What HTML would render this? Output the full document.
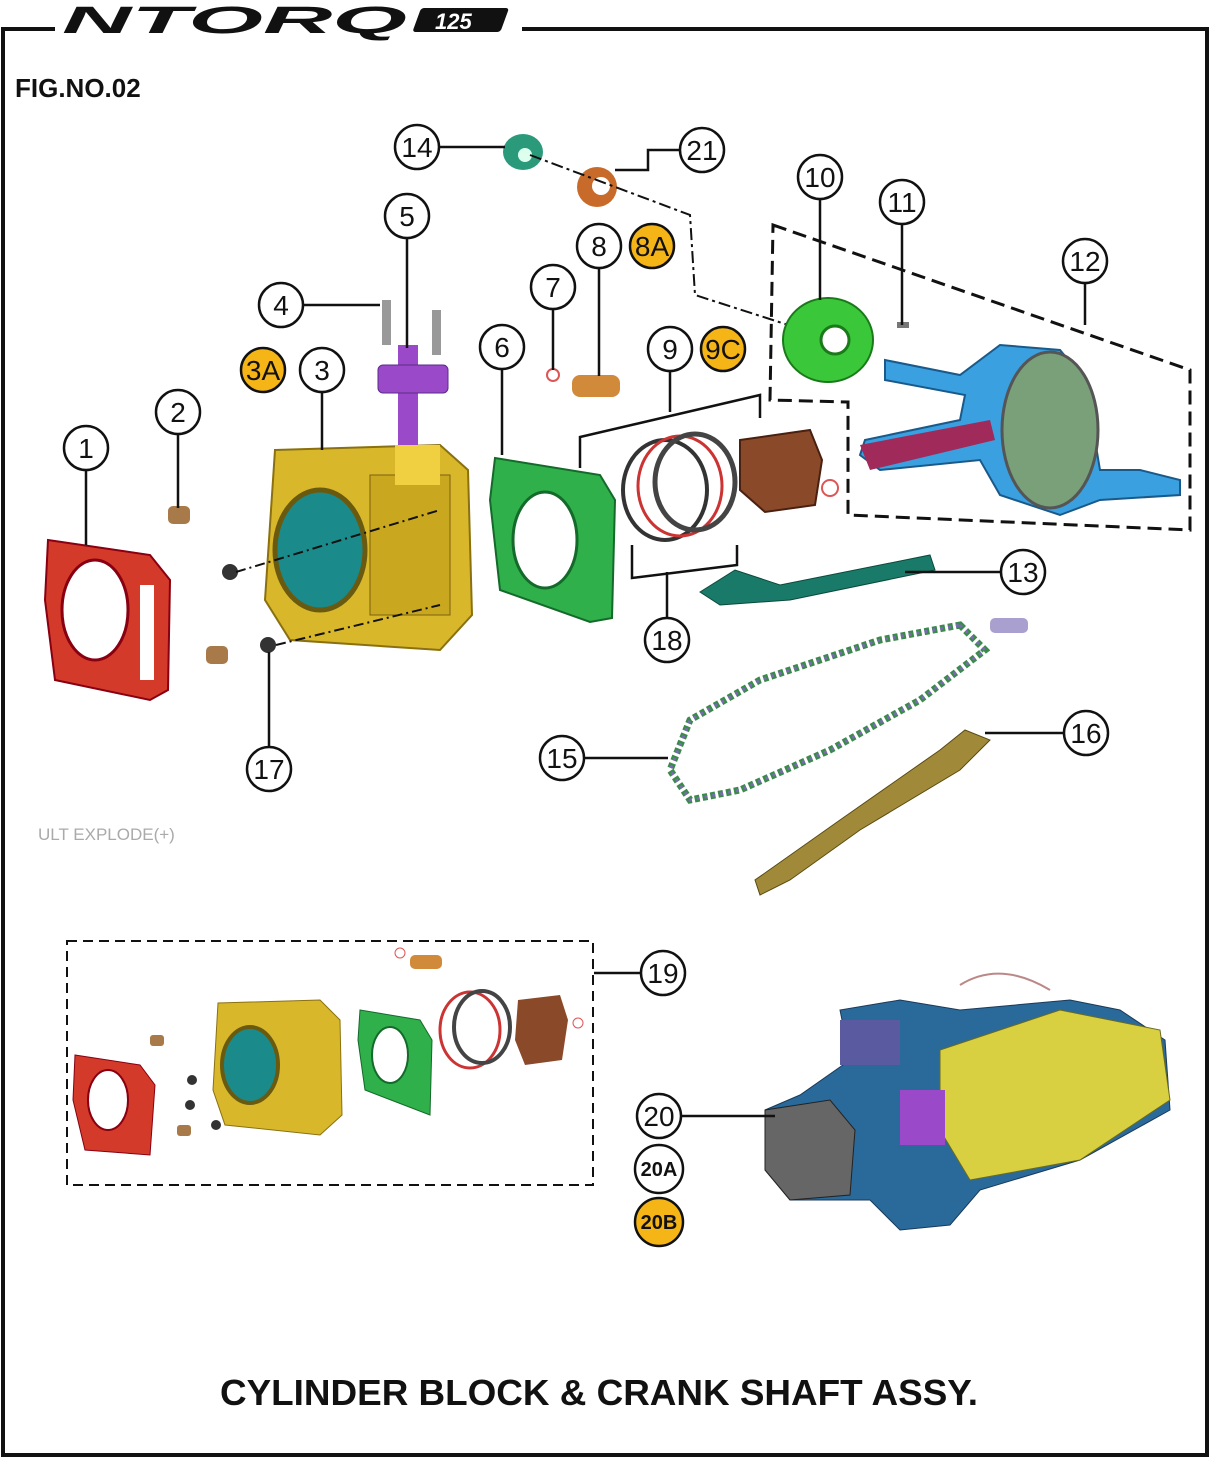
<!DOCTYPE html>
<html><head><meta charset="utf-8"><style>
html,body{margin:0;padding:0;background:#fff;}
svg{display:block}
text{font-family:"Liberation Sans",sans-serif;}
</style></head><body>
<svg width="1210" height="1458" viewBox="0 0 1210 1458" xmlns="http://www.w3.org/2000/svg">
<rect width="1210" height="1458" fill="#fff"/>
<path d="M55 29 H3 V1455 H1207 V29 H522" fill="none" stroke="#111" stroke-width="4"/>
<text x="62" y="33" font-size="38" font-weight="bold" font-style="italic" fill="#111" textLength="345" lengthAdjust="spacingAndGlyphs">NTORQ</text>
<rect x="420" y="8" width="88" height="24" rx="3" fill="#111" transform="skewX(-20) translate(4 0)"/>
<text x="435" y="29" font-size="22" font-weight="bold" font-style="italic" fill="#fff">125</text>
<text x="15" y="97" font-size="26" font-weight="bold" fill="#111">FIG.NO.02</text>
<text x="220" y="1405" font-size="36" font-weight="bold" fill="#111" textLength="758" lengthAdjust="spacingAndGlyphs">CYLINDER BLOCK &amp; CRANK SHAFT ASSY.</text>
<text x="38" y="840" font-size="17" fill="#aaa">ULT EXPLODE(+)</text>

<path d="M48 540 L150 555 L170 580 L168 690 L150 700 L55 680 L45 600 Z" fill="#d33a2a" stroke="#801" stroke-width="2"/>
<ellipse cx="95" cy="610" rx="33" ry="50" fill="#fff" stroke="#801" stroke-width="3"/>
<rect x="140" y="585" width="14" height="95" fill="#fff"/>
<rect x="168" y="506" width="22" height="18" rx="5" fill="#a87a4a"/>
<rect x="206" y="646" width="22" height="18" rx="5" fill="#a87a4a"/>
<circle cx="230" cy="572" r="8" fill="#333"/><circle cx="268" cy="645" r="8" fill="#333"/>
<path d="M275 450 L440 445 L468 470 L472 615 L440 650 L290 640 L265 600 Z" fill="#d8b82a" stroke="#8a7010" stroke-width="2"/>
<ellipse cx="320" cy="550" rx="45" ry="60" fill="#1a8a8a" stroke="#6a5a10" stroke-width="5"/>
<rect x="370" y="475" width="80" height="140" fill="#c9a820" stroke="#7a6010"/>
<rect x="395" y="445" width="45" height="40" fill="#f0d040"/>
<line x1="236" y1="572" x2="440" y2="510" stroke="#111" stroke-width="2" stroke-dasharray="10 4 2 4"/>
<line x1="276" y1="645" x2="440" y2="605" stroke="#111" stroke-width="2" stroke-dasharray="10 4 2 4"/>
<rect x="382" y="300" width="9" height="45" fill="#999"/><rect x="432" y="310" width="9" height="45" fill="#999"/>
<rect x="398" y="345" width="20" height="100" fill="#9a4ac8"/>
<rect x="378" y="365" width="70" height="28" rx="5" fill="#9a4ac8" stroke="#5a2a88"/>
<path d="M495 458 L600 475 L615 500 L612 618 L590 622 L500 590 L490 500 Z" fill="#2fb04a" stroke="#146a2a" stroke-width="2"/>
<ellipse cx="545" cy="540" rx="32" ry="48" fill="#fff" stroke="#146a2a" stroke-width="3"/>
<circle cx="553" cy="375" r="6" fill="none" stroke="#d55" stroke-width="2"/>
<rect x="572" y="375" width="48" height="22" rx="8" fill="#d08a3a"/>
<ellipse cx="665" cy="490" rx="42" ry="50" fill="none" stroke="#333" stroke-width="4"/>
<ellipse cx="680" cy="486" rx="42" ry="50" fill="none" stroke="#c33" stroke-width="3"/>
<ellipse cx="695" cy="482" rx="40" ry="48" fill="none" stroke="#444" stroke-width="5"/>
<path d="M740 440 L810 430 L822 460 L815 505 L765 512 L740 490 Z" fill="#8a4a2a" stroke="#4a2010" stroke-width="2"/>
<circle cx="830" cy="488" r="8" fill="none" stroke="#d55" stroke-width="2"/>
<ellipse cx="523" cy="152" rx="20" ry="18" fill="#2a9a7a"/><circle cx="525" cy="155" r="7" fill="#dfe"/>
<ellipse cx="597" cy="187" rx="20" ry="20" fill="#c86a2a"/><circle cx="601" cy="186" r="9" fill="#fff"/>
<path d="M530 155 L690 215 L695 295 L835 340" fill="none" stroke="#111" stroke-width="2" stroke-dasharray="12 4 3 4"/>
<ellipse cx="828" cy="340" rx="45" ry="42" fill="#3ac83a" stroke="#1a7a1a" stroke-width="2"/>
<circle cx="835" cy="340" r="14" fill="#fff" stroke="#1a7a1a" stroke-width="3"/>
<rect x="897" y="322" width="12" height="6" fill="#777"/>
<path d="M885 360 L960 375 L1000 345 L1060 350 L1085 380 L1100 470 L1140 470 L1180 480 L1180 495 L1100 500 L1060 515 L1000 495 L980 460 L880 470 L860 455 L865 440 L960 420 L965 395 L885 380 Z" fill="#3aa0e0" stroke="#1a5a8a" stroke-width="2"/>
<ellipse cx="1050" cy="430" rx="48" ry="78" fill="#7aa07a" stroke="#555" stroke-width="3"/>
<path d="M860 445 L990 420 L995 440 L870 470 Z" fill="#a02a5a"/>
<path d="M773 225 L1190 370 L1190 530 L848 515 L848 402 L770 400 Z" fill="none" stroke="#111" stroke-width="3" stroke-dasharray="14 7"/>
<path d="M700 592 L735 570 L780 585 L930 555 L935 570 L790 600 L720 605 Z" fill="#1a7a6a" stroke="#0a4a3a"/>
<rect x="990" y="618" width="38" height="15" rx="5" fill="#aaa0d0"/>
<path d="M960 625 L985 650 L920 700 L830 750 L740 790 L690 800 L670 770 L690 720 L760 680 L880 640 Z" fill="none" stroke="#3a8a4a" stroke-width="7" stroke-dasharray="5 3"/>
<path d="M960 625 L985 650 L920 700 L830 750 L740 790 L690 800 L670 770 L690 720 L760 680 L880 640 Z" fill="none" stroke="#7a6ab0" stroke-width="3" stroke-dasharray="3 5"/>
<path d="M965 730 L990 740 L960 770 L860 830 L790 880 L760 895 L755 880 L840 820 L940 750 Z" fill="#a08a3a" stroke="#5a4a10"/>

<rect x="67" y="941" width="526" height="244" fill="none" stroke="#111" stroke-width="2" stroke-dasharray="10 6"/>
<path d="M75 1055 L140 1065 L155 1085 L150 1155 L85 1150 L73 1100 Z" fill="#d33a2a" stroke="#801"/>
<ellipse cx="108" cy="1100" rx="20" ry="30" fill="#fff" stroke="#801" stroke-width="2"/>
<rect x="150" y="1035" width="14" height="11" rx="3" fill="#a87a4a"/><rect x="177" y="1125" width="14" height="11" rx="3" fill="#a87a4a"/>
<circle cx="192" cy="1080" r="5" fill="#333"/><circle cx="190" cy="1105" r="5" fill="#333"/><circle cx="216" cy="1125" r="5" fill="#333"/>
<path d="M218 1003 L320 1000 L340 1020 L342 1115 L320 1135 L225 1125 L213 1090 Z" fill="#d8b82a" stroke="#8a7010"/>
<ellipse cx="250" cy="1065" rx="28" ry="38" fill="#1a8a8a" stroke="#6a5a10" stroke-width="4"/>
<path d="M360 1010 L420 1020 L432 1040 L430 1115 L365 1090 L358 1040 Z" fill="#2fb04a" stroke="#146a2a"/>
<ellipse cx="390" cy="1055" rx="18" ry="28" fill="#fff" stroke="#146a2a" stroke-width="2"/>
<circle cx="400" cy="953" r="5" fill="none" stroke="#d55"/><rect x="410" y="955" width="32" height="14" rx="5" fill="#d08a3a"/>
<ellipse cx="470" cy="1030" rx="30" ry="38" fill="none" stroke="#c33" stroke-width="3"/>
<ellipse cx="482" cy="1027" rx="28" ry="36" fill="none" stroke="#444" stroke-width="4"/>
<path d="M518 1000 L560 995 L568 1020 L562 1060 L525 1065 L515 1040 Z" fill="#8a4a2a"/>
<circle cx="578" cy="1023" r="5" fill="none" stroke="#d55"/>

<path d="M765 1110 L800 1095 L850 1060 L840 1010 L900 1000 L960 1010 L1070 1000 L1120 1010 L1165 1040 L1170 1110 L1080 1160 L980 1190 L950 1225 L900 1230 L870 1200 L790 1200 L765 1170 Z" fill="#2a6a9a" stroke="#1a3a5a"/>
<path d="M940 1050 L1060 1010 L1160 1030 L1170 1100 L1080 1160 L970 1180 L940 1130 Z" fill="#d8d040" stroke="#6a6a20"/>
<path d="M765 1110 L830 1100 L855 1130 L850 1195 L790 1200 L765 1170 Z" fill="#666" stroke="#222"/>
<rect x="900" y="1090" width="45" height="55" fill="#9a4ac8"/>
<rect x="840" y="1020" width="60" height="45" fill="#5a5aa0"/>
<path d="M960 985 Q1000 960 1050 990" fill="none" stroke="#b88" stroke-width="2"/>

<g stroke="#111" stroke-width="2.5" fill="none">
<line x1="86" y1="470" x2="86" y2="545"/>
<line x1="178" y1="434" x2="178" y2="508"/>
<line x1="322" y1="392" x2="322" y2="450"/>
<line x1="303" y1="305" x2="380" y2="305"/>
<line x1="407" y1="238" x2="407" y2="348"/>
<line x1="502" y1="369" x2="502" y2="455"/>
<line x1="553" y1="309" x2="553" y2="370"/>
<line x1="599" y1="268" x2="599" y2="376"/>
<line x1="439" y1="147" x2="505" y2="147"/>
<polyline points="680,150 648,150 648,170 615,170"/>
<line x1="820" y1="199" x2="820" y2="300"/>
<line x1="902" y1="224" x2="902" y2="325"/>
<line x1="1085" y1="283" x2="1085" y2="325"/>
<line x1="1001" y1="572" x2="905" y2="572"/>
<line x1="584" y1="758" x2="668" y2="758"/>
<line x1="1064" y1="733" x2="985" y2="733"/>
<line x1="269" y1="747" x2="269" y2="652"/>
<polyline points="670,371 670,412"/>
<polyline points="580,468 580,437 760,395 760,418"/>
<polyline points="632,545 632,578 737,565 737,545"/>
<line x1="667" y1="618" x2="667" y2="572"/>
<line x1="641" y1="973" x2="594" y2="973"/>
<line x1="681" y1="1116" x2="775" y2="1116"/>
</g>

<g stroke="#111" stroke-width="2.5">
<circle cx="86" cy="448" r="22" fill="#fff"/>
<circle cx="178" cy="412" r="22" fill="#fff"/>
<circle cx="322" cy="370" r="22" fill="#fff"/>
<circle cx="263" cy="370" r="22" fill="#f5b516"/>
<circle cx="281" cy="305" r="22" fill="#fff"/>
<circle cx="407" cy="216" r="22" fill="#fff"/>
<circle cx="502" cy="347" r="22" fill="#fff"/>
<circle cx="553" cy="287" r="22" fill="#fff"/>
<circle cx="599" cy="246" r="22" fill="#fff"/>
<circle cx="652" cy="246" r="22" fill="#f5b516"/>
<circle cx="670" cy="349" r="22" fill="#fff"/>
<circle cx="723" cy="349" r="22" fill="#f5b516"/>
<circle cx="820" cy="177" r="22" fill="#fff"/>
<circle cx="902" cy="202" r="22" fill="#fff"/>
<circle cx="1085" cy="261" r="22" fill="#fff"/>
<circle cx="1023" cy="572" r="22" fill="#fff"/>
<circle cx="417" cy="147" r="22" fill="#fff"/>
<circle cx="702" cy="150" r="22" fill="#fff"/>
<circle cx="562" cy="758" r="22" fill="#fff"/>
<circle cx="1086" cy="733" r="22" fill="#fff"/>
<circle cx="269" cy="769" r="22" fill="#fff"/>
<circle cx="667" cy="640" r="22" fill="#fff"/>
<circle cx="663" cy="973" r="22" fill="#fff"/>
<circle cx="659" cy="1116" r="22" fill="#fff"/>
<circle cx="659" cy="1169" r="24" fill="#fff"/>
<circle cx="659" cy="1222" r="24" fill="#f5b516"/>
</g>
<g font-size="28" fill="#111" text-anchor="middle">
<text x="86" y="458">1</text><text x="178" y="422">2</text><text x="322" y="380">3</text>
<text x="263" y="380">3A</text><text x="281" y="315">4</text><text x="407" y="226">5</text>
<text x="502" y="357">6</text><text x="553" y="297">7</text><text x="599" y="256">8</text>
<text x="652" y="256">8A</text><text x="670" y="359">9</text><text x="723" y="359">9C</text>
<text x="820" y="187">10</text><text x="902" y="212">11</text><text x="1085" y="271">12</text>
<text x="1023" y="582">13</text><text x="417" y="157">14</text><text x="702" y="160">21</text>
<text x="562" y="768">15</text><text x="1086" y="743">16</text><text x="269" y="779">17</text>
<text x="667" y="650">18</text><text x="663" y="983">19</text><text x="659" y="1126">20</text>
</g>
<g font-size="20" font-weight="bold" fill="#111" text-anchor="middle">
<text x="659" y="1176">20A</text><text x="659" y="1229">20B</text>
</g>
</svg>
</body></html>
